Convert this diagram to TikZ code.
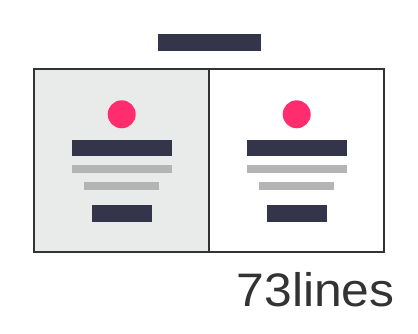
\documentclass[tikz,border=0pt]{standalone}
\usepackage{fontspec}
\setmainfont{Liberation Sans}
\usepackage{tikz}
\definecolor{ink}{HTML}{34354A}
\definecolor{rose}{HTML}{FF2D6E}
\definecolor{mist}{HTML}{B3B4B3}
\definecolor{pane}{HTML}{E9EBEA}
\definecolor{frame}{HTML}{333333}
\begin{document}
\begin{tikzpicture}[x=1pt,y=-1pt]
\useasboundingbox (0,0) rectangle (418,334);
\fill[ink] (158,34) rectangle (261,51);
\fill[pane] (34,69) rectangle (209,252);
\draw[frame,line width=2pt] (34,69) rectangle (384,252);
\draw[frame,line width=2pt] (209,69)--(209,252);
% the two cards, same layout shifted by 175
\foreach \d in {0,175}{
  \fill[rose] (121.7+\d,114.3) circle (14);
  \fill[ink] (72+\d,140) rectangle (172+\d,156.3);
  \fill[mist] (72+\d,165) rectangle (172+\d,172.7);
  \fill[mist] (84.3+\d,182) rectangle (159.3+\d,189.7);
  \fill[ink] (92+\d,205.3) rectangle (151.7+\d,221.7);
}
\node[anchor=base west,inner sep=0pt,xscale=1.06,text=frame,font=\fontsize{47}{47}\selectfont] (logo) at (236.5,306.7) {73lines};
\end{tikzpicture}
\end{document}
